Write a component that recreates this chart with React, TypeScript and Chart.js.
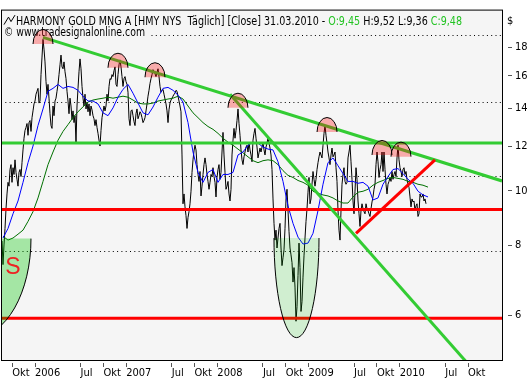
import React, { useEffect, useRef } from 'react';
import { Chart, registerables } from 'chart.js';

Chart.register(...registerables);

// ---------- data ----------
// Daily close, sampled about every 4 calendar days, decimal-year time axis
const CLOSE_START = 2005.638;
const CLOSE_STEP = 0.010968;
const CLOSE = [
  8.14, 7.39, 8.01, 8.57, 9.29, 9.87, 10.35, 10.19, 10.91, 11.13,
  10.35, 10.99, 10.69, 11.35, 10.78, 10.48, 10.19, 10.78, 10.91, 10.60,
  11.22, 11.82, 12.40, 12.80, 12.96, 13.17, 12.55, 13.22, 13.33, 12.75,
  13.49, 13.87, 14.27, 14.44, 14.85, 15.03, 15.21, 14.32, 14.44, 16.09,
  17.29, 18.59, 17.86, 16.95, 15.64, 14.85, 15.46, 14.61, 13.71, 13.06,
  12.91, 14.15, 13.60, 14.44, 14.61, 15.03, 15.46, 16.09, 16.75, 17.43,
  16.61, 16.48, 16.95, 16.28, 15.83, 15.03, 14.44, 13.71, 14.61, 14.15,
  13.38, 13.87, 13.22, 13.60, 12.20, 14.15, 15.21, 16.28, 17.16, 16.48,
  15.33, 14.61, 14.15, 14.85, 13.98, 14.38, 13.82, 14.27, 13.60, 14.15,
  13.93, 13.60, 13.43, 13.06, 13.38, 12.96, 12.65, 12.30, 12.01, 12.80,
  13.49, 13.82, 14.15, 13.87, 14.15, 14.85, 14.44, 15.33, 15.83, 15.77,
  16.09, 15.96, 16.35, 16.61, 15.46, 15.33, 16.09, 16.75, 17.09, 16.61,
  15.96, 15.33, 15.83, 15.96, 15.64, 15.46, 14.97, 13.43, 13.06, 13.87,
  13.93, 13.60, 13.27, 13.06, 13.71, 13.98, 13.43, 13.60, 13.82, 13.71,
  13.49, 13.22, 13.33, 13.49, 13.87, 14.27, 14.73, 15.09, 15.52, 15.83,
  16.09, 16.42, 16.28, 16.15, 15.96, 16.22, 16.48, 15.96, 15.33, 14.97,
  15.09, 15.15, 14.85, 14.56, 14.27, 13.87, 13.22, 13.93, 14.32, 14.50,
  14.61, 14.73, 14.85, 14.91, 15.09, 15.03, 14.73, 14.44, 14.15, 13.82,
  11.58, 9.48, 9.87, 9.36, 9.03, 8.57, 8.96, 9.18, 9.48, 9.98,
  10.78, 11.35, 11.77, 12.05, 11.82, 11.13, 10.69, 10.39, 10.82, 9.79,
  10.19, 10.69, 11.13, 11.44, 11.13, 10.69, 10.39, 10.06, 10.35, 10.69,
  10.60, 10.99, 10.60, 10.35, 9.75, 10.56, 10.91, 11.13, 10.48, 10.78,
  11.72, 12.70, 11.58, 10.78, 10.06, 10.19, 10.39, 9.87, 9.59, 10.06,
  11.58, 12.30, 12.91, 12.40, 12.80, 13.33, 13.98, 13.17, 12.55, 11.82,
  11.35, 11.13, 11.49, 11.72, 11.96, 12.05, 11.72, 12.20, 11.82, 11.58,
  11.26, 12.30, 12.65, 12.91, 12.40, 11.96, 11.44, 11.68, 11.91, 11.72,
  11.96, 12.20, 11.82, 11.58, 11.96, 12.15, 12.40, 12.15, 11.91, 11.58,
  10.91, 9.67, 8.75, 8.17, 8.51, 7.91, 8.24, 8.57, 8.75, 7.91,
  7.36, 7.60, 7.85, 8.57, 9.67, 10.06, 9.22, 8.47, 7.91, 7.69,
  7.45, 6.88, 7.30, 6.74, 5.86, 6.22, 7.07, 8.07, 7.30, 6.10,
  6.35, 7.02, 7.66, 8.24, 8.82, 9.29, 9.94, 10.56, 9.48, 9.67,
  10.27, 10.82, 10.48, 10.19, 10.48, 10.91, 11.22, 11.49, 11.72, 11.58,
  11.44, 12.05, 12.65, 13.06, 12.55, 12.15, 11.72, 11.44, 11.13, 11.58,
  11.91, 11.49, 11.58, 11.72, 10.99, 10.39, 9.22, 8.51, 8.17, 9.22,
  10.27, 10.69, 10.99, 10.39, 10.27, 10.35, 11.44, 11.72, 12.05, 11.26,
  10.48, 9.59, 9.10, 9.98, 10.99, 10.48, 9.59, 9.10, 8.64, 9.22,
  9.48, 9.29, 9.18, 9.10, 9.48, 9.29, 9.22, 9.10, 9.00, 9.29,
  9.55, 9.75, 10.06, 10.27, 11.13, 11.72, 11.26, 10.56, 10.91, 11.13,
  11.72, 10.82, 11.72, 10.91, 10.27, 9.87, 10.27, 10.39, 10.56, 10.39,
  10.82, 10.48, 10.69, 10.82, 10.60, 11.44, 12.05, 11.35, 10.99, 10.82,
  10.60, 10.91, 10.99, 10.69, 10.82, 10.48, 10.27, 10.14, 9.75, 9.36,
  9.67, 9.55, 9.59, 9.22, 9.40, 9.48, 9.00, 9.10, 9.87, 9.75,
  9.75, 9.87, 9.59, 9.67, 9.48,
];

// Moving averages, one value every ~20 days
const MA_START = 2005.649;
const MA_STEP = 0.05484;
const MA_FAST = [
  8.24, 8.57, 9.10, 9.59, 10.35, 11.22, 12.01, 13.06, 13.98, 15.03,
  15.21, 15.46, 15.21, 15.33, 15.27, 15.09, 14.73, 14.44, 14.44, 14.27,
  13.76, 13.60, 14.04, 14.67, 15.15, 15.46, 14.91, 14.32, 13.76, 13.65,
  14.09, 14.67, 15.21, 15.27, 15.09, 14.79, 14.38, 13.22, 11.72, 10.78,
  10.35, 10.78, 10.91, 10.35, 10.69, 10.69, 10.78, 11.58, 11.72, 12.05,
  12.20, 12.15, 11.96, 11.86, 11.82, 11.26, 10.39, 9.40, 8.75, 8.27,
  8.04, 8.07, 8.40, 9.22, 10.27, 11.22, 11.44, 11.08, 10.73, 10.39,
  10.39, 10.31, 10.35, 10.19, 9.63, 9.71, 10.27, 10.60, 10.91, 10.95,
  10.73, 10.48, 10.31, 9.98, 9.83, 9.75,
];
const MA_SLOW = [
  8.30, 8.17, 8.24, 8.37, 8.51, 8.82, 9.18, 9.71, 10.39, 11.13,
  11.72, 12.30, 12.75, 13.11, 13.49, 13.82, 14.10, 14.38, 14.50, 14.56,
  14.61, 14.67, 14.61, 14.67, 14.73, 14.67, 14.50, 14.32, 14.27, 14.27,
  14.32, 14.44, 14.50, 14.56, 14.61, 14.73, 14.56, 14.15, 13.76, 13.49,
  13.22, 13.01, 12.86, 12.65, 12.40, 12.20, 12.05, 11.86, 11.68, 11.49,
  11.31, 11.22, 11.31, 11.35, 11.31, 11.13, 10.86, 10.65, 10.56, 10.43,
  10.35, 10.23, 9.98, 9.90, 9.83, 9.79, 9.71, 9.59, 9.51, 9.51,
  9.75, 9.94, 9.98, 10.06, 10.23, 10.35, 10.43, 10.52, 10.56, 10.52,
  10.48, 10.39, 10.35, 10.27, 10.23, 10.15,
];

// Axes
const X_MIN = 2005.627;
const X_MAX = 2011.122;
const Y_MIN = 5;
const Y_MAX = 21;
const X_TICKS = [2005.75, 2006, 2006.5, 2006.75, 2007, 2007.5, 2007.75, 2008, 2008.5, 2008.75, 2009, 2009.5, 2009.75, 2010, 2010.5, 2010.75];
const X_LABELS = ['Okt', '2006', 'Jul', 'Okt', '2007', 'Jul', 'Okt', '2008', 'Jul', 'Okt', '2009', 'Jul', 'Okt', '2010', 'Jul', 'Okt'];
const Y_TICKS = [6, 8, 10, 12, 14, 16, 18];
const GRID_LEVELS = [7.81, 10.59, 14.34, 18.89];

// Drawn analysis: horizontal levels
const GREEN_LEVELS = [12.16];
const RED_LEVELS = [9.26, 5.93];
// Trend lines: start date, start price, end date, end price
const GREEN_TREND_X1 = [2006.088, 2008.139];
const GREEN_TREND_Y1 = [18.74, 14.85];
const GREEN_TREND_X2 = [2011.122, 2010.881];
const GREEN_TREND_Y2 = [10.41, 4.655];
const RED_TREND_X1 = [2009.521];
const RED_TREND_Y1 = [8.40];
const RED_TREND_X2 = [2010.387];
const RED_TREND_Y2 = [11.35];
// Marked tops (half circles): date, base price
const TOP_DATES = [2006.088, 2006.910, 2007.316, 2008.226, 2009.203, 2009.806, 2010.014];
const TOP_PRICES = [18.24, 16.55, 15.92, 14.05, 12.72, 11.58, 11.50];
// Marked bottoms (bowls): left date, right date, top price, bottom price
const BOWL_LEFT = [2004.728, 2008.621];
const BOWL_RIGHT = [2005.956, 2009.115];
const BOWL_TOP = [8.22, 8.24];
const BOWL_BOTTOM = [5.50, 5.48];
const S_LABEL_DATE = 2005.757;
const S_LABEL_PRICE = 7.11;

const TITLE_PARTS = ['HARMONY GOLD MNG A [HMY NYS  Täglich] [Close] 31.03.2010 - ', 'O:9,45', ' H:9,52 L:9,36 ', 'C:9,48'];
const COPYRIGHT = '© www.tradesignalonline.com';

// ---------- styles ----------
const FONT = '"DejaVu Sans Condensed", "Liberation Sans", Arial, sans-serif';
const PLOT_BG = '#f5f5f5';
const TREND_GREEN = '#33cc33';
const TREND_RED = '#ff0000';
const TEXT_GREEN = '#22c322';

const decorPlugin = {
  id: 'decor',
  beforeDraw(chart: any) {
    const { ctx, chartArea: a } = chart;
    ctx.save();
    ctx.fillStyle = '#ffffff';
    ctx.fillRect(0, 0, chart.width, chart.height);
    ctx.fillStyle = PLOT_BG;
    ctx.fillRect(a.left, a.top, a.right - a.left, a.bottom - a.top);
    ctx.restore();
  },
  beforeDatasetsDraw(chart: any) {
    const { ctx, chartArea: a } = chart;
    ctx.save();
    // copyright line with its own background (hides the grid behind it)
    ctx.font = `12px ${FONT}`;
    const cw = ctx.measureText(COPYRIGHT).width;
    const csx = Math.min(1.2, Math.max(0.8, 141 / cw));
    ctx.fillStyle = PLOT_BG;
    ctx.fillRect(a.left + 1, a.top + 17, cw * csx + 6, 13);
    ctx.fillStyle = '#000';
    ctx.textBaseline = 'alphabetic';
    ctx.save();
    ctx.translate(a.left + 3, a.top + 26.5);
    ctx.scale(csx, 1);
    ctx.fillText(COPYRIGHT, 0, 0);
    ctx.restore();

    // title line
    let tw = 0;
    TITLE_PARTS.forEach((t) => { tw += ctx.measureText(t).width; });
    const sx = Math.min(1.2, Math.max(0.8, 446 / tw));
    ctx.save();
    ctx.translate(a.left + 15, a.top + 15);
    ctx.scale(sx, 1);
    let x = 0;
    TITLE_PARTS.forEach((t, i) => {
      ctx.fillStyle = i === 1 || i === 3 ? TEXT_GREEN : '#000';
      ctx.fillText(t, x, 0);
      x += ctx.measureText(t).width;
    });
    ctx.restore();

    // small line-chart icon
    ctx.strokeStyle = '#000';
    ctx.lineWidth = 1;
    ctx.beginPath();
    ctx.moveTo(a.left + 3, a.top + 15);
    ctx.lineTo(a.left + 7.5, a.top + 7.5);
    ctx.lineTo(a.left + 10, a.top + 12);
    ctx.lineTo(a.left + 14, a.top + 5.5);
    ctx.stroke();
    ctx.restore();
  },
  afterDatasetsDraw(chart: any) {
    const { ctx, chartArea: a, scales } = chart;
    const xs = scales.x;
    const ys = scales.y;
    ctx.save();
    ctx.beginPath();
    ctx.rect(a.left, a.top, a.right - a.left, a.bottom - a.top);
    ctx.clip();

    // bowls
    const bowlFill = ['rgba(0,200,0,0.33)', 'rgba(0,200,0,0.15)'];
    BOWL_LEFT.forEach((l, i) => {
      const xl = xs.getPixelForValue(l);
      const xr = xs.getPixelForValue(BOWL_RIGHT[i]);
      const ty = ys.getPixelForValue(BOWL_TOP[i]);
      const by = ys.getPixelForValue(BOWL_BOTTOM[i]);
      const cx = (xl + xr) / 2;
      const rx = (xr - xl) / 2;
      const ry = by - ty;
      ctx.beginPath();
      ctx.ellipse(cx, ty, rx, ry, 0, 0, Math.PI);
      ctx.closePath();
      ctx.fillStyle = bowlFill[i];
      ctx.fill();
      ctx.beginPath();
      ctx.ellipse(cx, ty, rx, ry, 0, 0, Math.PI);
      ctx.strokeStyle = '#000';
      ctx.lineWidth = 1;
      ctx.stroke();
    });

    // tops
    TOP_DATES.forEach((d, i) => {
      const cx = xs.getPixelForValue(d);
      const by = ys.getPixelForValue(TOP_PRICES[i]);
      ctx.beginPath();
      ctx.ellipse(cx, by, 10, 14.5, 0, Math.PI, 2 * Math.PI);
      ctx.closePath();
      ctx.fillStyle = 'rgba(255,0,0,0.3)';
      ctx.fill();
      ctx.beginPath();
      ctx.ellipse(cx, by, 10, 14.5, 0, Math.PI, 2 * Math.PI);
      ctx.strokeStyle = '#000';
      ctx.lineWidth = 1;
      ctx.stroke();
    });

    // S label
    ctx.fillStyle = '#ee2222';
    ctx.font = `23px "Liberation Sans", Arial, sans-serif`;
    ctx.textAlign = 'center';
    ctx.textBaseline = 'alphabetic';
    ctx.fillText('S', xs.getPixelForValue(S_LABEL_DATE), ys.getPixelForValue(S_LABEL_PRICE));
    ctx.restore();
  },
  afterDraw(chart: any) {
    const { ctx, chartArea: a } = chart;
    ctx.save();
    ctx.strokeStyle = '#000';
    ctx.lineWidth = 1;
    ctx.strokeRect(a.left + 0.5, a.top + 0.5, a.right - a.left, a.bottom - a.top);
    ctx.fillStyle = '#000';
    ctx.font = `11px ${FONT}`;
    ctx.textBaseline = 'alphabetic';
    ctx.fillText('$', a.right + 5, a.top + 14);
    ctx.restore();
  },
};

function lineSet(points: { x: number; y: number }[], color: string, width: number) {
  return {
    data: points,
    borderColor: color,
    borderWidth: width,
    pointRadius: 0,
    pointHoverRadius: 0,
    fill: false,
    tension: 0,
    clip: 0,
  };
}

export default function App() {
  const ref = useRef<HTMLCanvasElement>(null);

  useEffect(() => {
    document.body.style.margin = '0';
    const canvas = ref.current;
    if (!canvas) return;

    const closePts = CLOSE.map((v, i) => ({ x: CLOSE_START + i * CLOSE_STEP, y: v }));
    const fastPts = MA_FAST.map((v, i) => ({ x: MA_START + i * MA_STEP, y: v }));
    const slowPts = MA_SLOW.map((v, i) => ({ x: MA_START + i * MA_STEP, y: v }));

    const datasets: any[] = [];
    RED_TREND_X1.forEach((x1, i) => {
      datasets.push(lineSet([{ x: x1, y: RED_TREND_Y1[i] }, { x: RED_TREND_X2[i], y: RED_TREND_Y2[i] }], TREND_RED, 3));
    });
    GREEN_TREND_X1.forEach((x1, i) => {
      datasets.push(lineSet([{ x: x1, y: GREEN_TREND_Y1[i] }, { x: GREEN_TREND_X2[i], y: GREEN_TREND_Y2[i] }], TREND_GREEN, 3));
    });
    GREEN_LEVELS.forEach((v) => datasets.push(lineSet([{ x: X_MIN, y: v }, { x: X_MAX, y: v }], TREND_GREEN, 3)));
    RED_LEVELS.forEach((v) => datasets.push(lineSet([{ x: X_MIN, y: v }, { x: X_MAX, y: v }], TREND_RED, 3)));
    datasets.push(lineSet(fastPts, '#0000ff', 1));
    datasets.push(lineSet(slowPts, '#007000', 1));
    datasets.push(lineSet(closePts, '#000000', 1));

    const tickFont = { family: FONT, size: 11 };

    const chart = new Chart(canvas, {
      type: 'line',
      data: { datasets },
      plugins: [decorPlugin],
      options: {
        animation: false,
        responsive: false,
        maintainAspectRatio: false,
        events: [],
        parsing: false,
        normalized: true,
        layout: { padding: { left: 1, top: 1, right: 0, bottom: 0 } },
        plugins: {
          legend: { display: false },
          tooltip: { enabled: false },
          title: { display: false },
        },
        scales: {
          x: {
            type: 'linear',
            position: 'bottom',
            min: X_MIN,
            max: X_MAX,
            afterFit: (s: any) => { s.height = 20; },
            afterBuildTicks: (s: any) => { s.ticks = X_TICKS.map((v) => ({ value: v })); },
            ticks: {
              autoSkip: false,
              maxRotation: 0,
              minRotation: 0,
              align: 'start',
              padding: 0,
              color: '#000',
              font: tickFont,
              callback: (_v: any, i: number) => X_LABELS[i],
            },
            grid: {
              drawOnChartArea: false,
              drawTicks: true,
              tickLength: 7,
              tickColor: '#555',
              tickBorderDash: [0, 3, 4, 20],
            },
            border: { display: false },
          },
          y: {
            type: 'logarithmic',
            position: 'right',
            min: Y_MIN,
            max: Y_MAX,
            afterFit: (s: any) => { s.width = 30; },
            afterBuildTicks: (s: any) => { s.ticks = Y_TICKS.map((v) => ({ value: v })); },
            ticks: {
              padding: 3,
              color: '#000',
              font: tickFont,
              autoSkip: false,
              callback: (v: any) => String(v),
            },
            grid: {
              drawOnChartArea: false,
              drawTicks: true,
              tickLength: 10,
              tickColor: '#555',
              tickBorderDash: [0, 6, 4, 20],
            },
            border: { display: false },
          },
          yGrid: {
            type: 'logarithmic',
            position: 'right',
            min: Y_MIN,
            max: Y_MAX,
            afterFit: (s: any) => { s.width = 0; },
            afterBuildTicks: (s: any) => { s.ticks = GRID_LEVELS.map((v) => ({ value: v })); },
            ticks: { display: false },
            grid: {
              drawOnChartArea: true,
              drawTicks: false,
              color: '#000',
              lineWidth: 1,
            },
            border: { display: false, dash: [1, 3.3] },
          },
        },
      } as any,
    });

    return () => chart.destroy();
  }, []);

  return (
    <div style={{ width: 532, height: 380 }}>
      <canvas ref={ref} width={532} height={380} style={{ display: 'block' }} />
    </div>
  );
}
